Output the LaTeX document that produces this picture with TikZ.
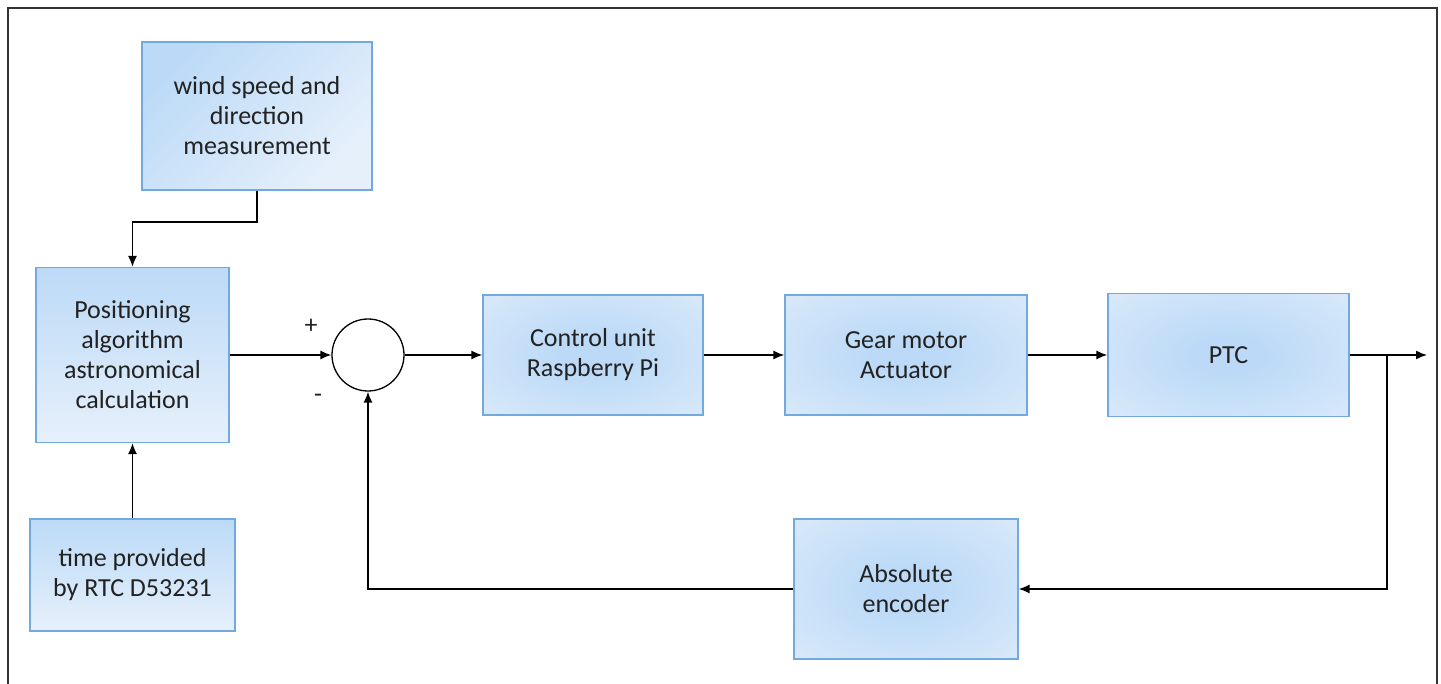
\documentclass[tikz,border=0pt]{standalone}
\usepackage{fontspec}
\setmainfont{Carlito}
\usetikzlibrary{arrows.meta}
\definecolor{boxline}{HTML}{72AADF}
\definecolor{boxdark}{HTML}{BCDAF7}
\definecolor{boxlight}{HTML}{E6F0FB}
\definecolor{ink}{HTML}{222222}
\pgfdeclareradialshading{boxglow}{\pgfpoint{0bp}{0bp}}{color(0bp)=(boxdark); color(8bp)=(boxdark); color(48bp)=(boxlight); color(50bp)=(boxlight)}

\begin{document}
\begin{tikzpicture}[x=1pt, y=-1pt, >={Latex[length=11pt, width=9pt]}, line width=1.4pt,
    every node/.style={font=\fontsize{26}{30}\selectfont, text=ink, align=center},
    block/.style={draw=boxline, line width=1.3pt, inner sep=0pt},
    radialblock/.style={block, shading=boxglow},
    vertblock/.style={block, top color=boxdark, bottom color=boxlight},
    link/.style={->, line width=1.4pt, black}]

    \useasboundingbox (0,0) rectangle (1441,684);

    % outer frame
    \draw[line width=1.5pt, black!80] (8,684) -- (8,8) -- (1437,8) -- (1437,684);

    % reference side
    \node[block, left color=boxdark, right color=boxlight, shading angle=45,
          minimum width=230pt, minimum height=148pt] (wind) at (257,116)
          {wind speed and\\direction\\measurement};
    \node[vertblock, minimum width=193pt, minimum height=175pt] (pos) at (132.5,355)
          {Positioning\\algorithm\\astronomical\\calculation};
    \node[vertblock, minimum width=205pt, minimum height=112pt] (time) at (132.5,575)
          {time provided\\by RTC D53231};

    % summing junction
    \node[draw, black, circle, line width=1.3pt, minimum size=72pt, inner sep=0pt] (sum) at (368,355) {};
    \node (plus) at (311,326) {+};
    \node (minus) at (318,398) {-};

    % forward path
    \node[radialblock, minimum width=220pt, minimum height=120pt] (control) at (593,355)
          {Control unit\\Raspberry Pi};
    \node[radialblock, minimum width=242pt, minimum height=120pt] (gear) at (906,355)
          {Gear motor\\Actuator};
    \node[radialblock, minimum width=241pt, minimum height=123pt] (ptc) at (1228.5,355)
          {PTC};

    % feedback
    \node[radialblock, minimum width=224pt, minimum height=140pt] (encoder) at (906,589)
          {Absolute\\encoder};

    \coordinate (windturn) at (132.5,222);
    \coordinate (out) at (1427,355);
    \coordinate (branch) at (1387,355);

    \draw[link] (wind.south) |- (windturn) -- (pos.north);
    \draw[link] (time.north) -- (pos.south);
    \draw[link] (pos.east) -- (sum.west);
    \draw[link] (sum.east) -- (control.west);
    \draw[link] (control.east) -- (gear.west);
    \draw[link] (gear.east) -- (ptc.west);
    \draw[link] (ptc.east) -- (out);
    \draw[link] (branch) |- (encoder.east);
    \draw[link] (encoder.west) -| (sum.south);
\end{tikzpicture}
\end{document}
